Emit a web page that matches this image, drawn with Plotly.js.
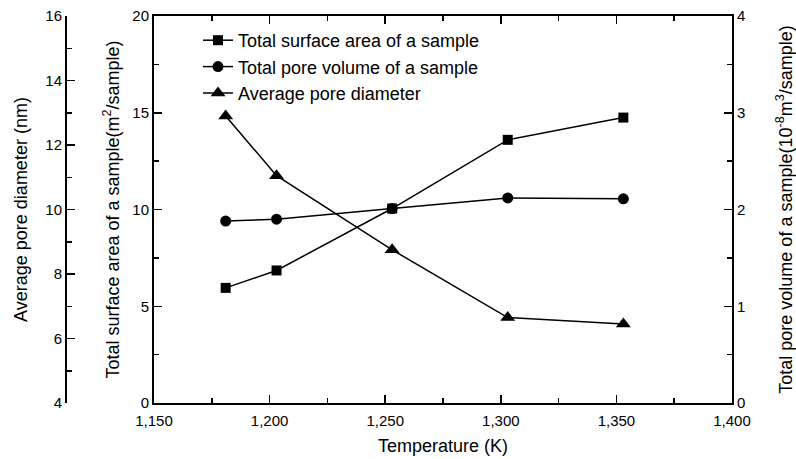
<!DOCTYPE html>
<html>
<head>
<meta charset="utf-8">
<script src="https://cdn.plot.ly/plotly-3.0.1.min.js"></script>
<style>html,body{margin:0;padding:0;background:#fff;}#chart{width:796px;height:459px;}</style>
</head>
<body>
<div id="chart"></div>
<script>
var temperatures = [1181, 1203, 1253, 1303, 1353];
var surfaceArea = [5.95, 6.85, 10.05, 13.6, 14.75];
var poreVolume = [1.88, 1.90, 2.01, 2.12, 2.11];
var poreDiameter = [12.9, 11.05, 8.75, 6.65, 6.45];

var seriesNames = ['Total surface area of a sample', 'Total pore volume of a sample', 'Average pore diameter'];
var xTitle = 'Temperature (K)';
var yTitle = 'Total surface area of a sample(m<sup>2</sup>/sample)';
var y2Title = 'Total pore volume of a sample(10<sup>-8</sup>m<sup>3</sup>/sample)';
var y3Title = 'Average pore diameter (nm)';

var FONT = '"Liberation Sans", Arial, sans-serif';
var W = 796, H = 459, ML = 50, MR = 64, MT = 16, MB = 56;
var plotW = W - ML - MR;
var plotH = H - MT - MB;
var xStart = (154 - ML) / plotW;
var y3Pos = (66 - ML) / plotW;

var lineStyle = {color: '#000', width: 1.5};
var traces = [
  {x: temperatures, y: surfaceArea, name: seriesNames[0], type: 'scatter', mode: 'lines+markers',
   line: lineStyle, marker: {symbol: 'square', size: 10, color: '#000'}, yaxis: 'y'},
  {x: temperatures, y: poreVolume, name: seriesNames[1], type: 'scatter', mode: 'lines+markers',
   line: lineStyle, marker: {symbol: 'circle', size: 11, color: '#000'}, yaxis: 'y2'},
  {x: temperatures, y: poreDiameter, name: seriesNames[2], type: 'scatter', mode: 'lines+markers',
   line: lineStyle, marker: {symbol: 'triangle-up', size: 13, color: '#000'}, yaxis: 'y3'}
];

function titleFont() { return {family: FONT, size: 18, color: '#000'}; }

function axisBase(extra) {
  var a = {
    showgrid: false, zeroline: false, showline: true, linecolor: '#000', linewidth: 2,
    ticks: 'inside', ticklen: 8, tickwidth: 1.5, tickcolor: '#000',
    tickfont: {family: FONT, size: 15, color: '#000'}
  };
  for (var k in extra) a[k] = extra[k];
  return a;
}

var layout = {
  width: W, height: H,
  margin: {l: ML, r: MR, t: MT, b: MB},
  paper_bgcolor: '#fff', plot_bgcolor: '#fff',
  font: {family: FONT, color: '#000'},
  showlegend: true,
  legend: {x: (198 - 154) / plotW + xStart, y: 1 - (22 - MT) / plotH, xanchor: 'left', yanchor: 'top',
           bgcolor: 'rgba(0,0,0,0)', font: {family: FONT, size: 18, color: '#000'}, tracegroupgap: 0},
  xaxis: axisBase({domain: [xStart, 1], range: [1150, 1400], dtick: 50, tick0: 1150, tickformat: ',',
    ticklabelstandoff: 3,
    mirror: 'ticks', minor: {dtick: 25, ticks: 'inside', ticklen: 5, tickwidth: 1.5, tickcolor: '#000'},
    title: {text: xTitle, standoff: 11, font: titleFont()}}),
  yaxis: axisBase({range: [0, 20], dtick: 5, side: 'left',
    minor: {dtick: 2.5, ticks: 'inside', ticklen: 5, tickwidth: 1.5, tickcolor: '#000'},
    title: {text: yTitle, standoff: 8, font: titleFont()}}),
  yaxis2: axisBase({range: [0, 4], dtick: 1, side: 'right', overlaying: 'y', anchor: 'x',
    minor: {dtick: 0.5, ticks: 'inside', ticklen: 5, tickwidth: 1.5, tickcolor: '#000'},
    title: {text: y2Title, standoff: 38, font: titleFont()}}),
  yaxis3: axisBase({range: [4, 16], dtick: 2, side: 'left', overlaying: 'y', anchor: 'free', position: y3Pos,
    minor: {dtick: 1, ticks: 'inside', ticklen: 5, tickwidth: 1.5, tickcolor: '#000'},
    title: {text: y3Title, standoff: 12, font: titleFont()}})
};

Plotly.newPlot('chart', traces, layout, {displayModeBar: false, staticPlot: true});
</script>
</body>
</html>
